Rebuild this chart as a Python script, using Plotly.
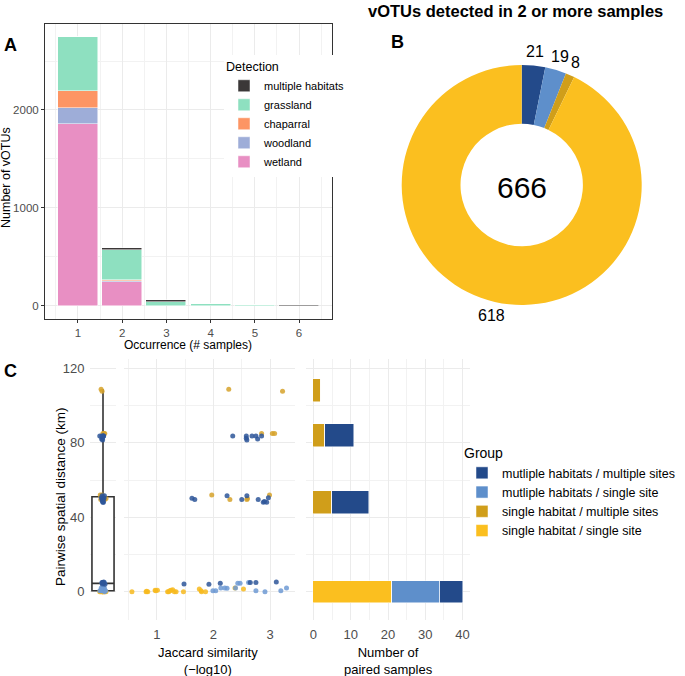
import math
import plotly.graph_objects as go

W, H = 685, 676
def fx(p):
    return p / W
def fy(p):
    return 1 - p / H

FONT = "Liberation Sans, Arial, Helvetica, sans-serif"
GRID = "#EBEBEB"
MINOR = "#F2F2F2"
TICKC = "#4D4D4D"

# ---------------- Panel A data ----------------
occurrence = [1, 2, 3, 4, 5, 6]
wetland = [1857, 238, 0, 0, 0, 0]
woodland = [163, 15, 0, 0, 0, 0]
chaparral = [177, 8, 0, 0, 0, 0]
grassland = [545, 308, 36, 18, 2, 1]
multiple_habitats = [0, 17, 18, 3, 1, 1]
detection_names = ["wetland", "woodland", "chaparral", "grassland", "multiple habitats"]
detection_colors = ["#E88FC3", "#9EADD8", "#FD9564", "#8EE0C0", "#3B3838"]

# ---------------- Panel B data ----------------
donut_labels = ["mutliple habitats / multiple sites", "mutliple habitats / single site",
                "single habitat / multiple sites", "single habitat / single site"]
donut_values = [21, 19, 8, 618]
donut_colors = ["#234A8A", "#5E8FCB", "#D09E1A", "#FBBF1F"]

# ---------------- Panel C data ----------------
group_names = ["single habitat / single site", "single habitat / multiple sites",
               "mutliple habitats / single site", "mutliple habitats / multiple sites"]
group_colors = ["#FBBF1F", "#D09E1A", "#5E8FCB", "#234A8A"]
point_colors = ["#F7BA1E", "#D6A22A", "#6F9AD3", "#2E5699"]

# Jaccard similarity (-log10) and pairwise distance (km) per group
ss_jac = [0.56, 0.81, 0.84, 0.97, 1.01, 1.19, 1.21, 1.23, 1.28, 1.31, 1.34, 1.47,
          1.75, 1.78, 1.79, 1.86, 2.38, 2.53, 0.98, 1.25, 0.82]
ss_dist = [0.0, 0.0, 0.0, 0.8, 0.8, 0.0, 0.0, 0.5, 1.0, 0.0, 0.0, 0.0,
           1.5, 0.5, 0.0, 0.0, 2.0, 1.5, 0.5, 0.8, 0.3]
sm_jac = [1.97, 2.29, 2.59, 2.99, 2.60, 2.85, 3.04, 3.08, 2.27, 3.22]
sm_dist = [52.0, 49.5, 49.5, 52.0, 50.0, 85.0, 85.0, 85.0, 108.7, 107.7]
ms_jac = [1.99, 2.04, 2.13, 2.20, 2.24, 2.39, 2.43, 2.47, 2.62, 2.75, 2.91, 3.19, 3.29]
ms_dist = [0.5, 0.5, 2.0, 2.0, 1.8, 2.0, 4.5, 4.5, 5.0, 0.5, 0.0, 0.5, 2.0]
mm_jac = [1.48, 1.92, 2.12, 2.65, 2.75, 3.11,
          1.62, 1.67, 2.24, 2.50, 2.59, 2.79, 2.88, 2.94, 2.97, 2.90,
          2.34, 2.58, 2.58, 2.59, 2.68, 2.75, 2.78, 2.85]
mm_dist = [4.1, 4.0, 4.5, 5.0, 5.0, 5.2,
           50.2, 49.5, 51.5, 49.5, 51.5, 49.5, 48.0, 48.0, 50.5, 48.5,
           83.7, 83.7, 82.4, 81.5, 83.7, 83.7, 82.0, 83.7]
group_jac = [ss_jac, sm_jac, ms_jac, mm_jac]
group_dist = [ss_dist, sm_dist, ms_dist, mm_dist]

# Number of paired samples per distance bin
dist_bins = [0, 48, 84, 108]
n_ss = [21, 0, 0, 0]
n_sm = [0, 5, 3, 2]
n_ms = [13, 0, 0, 0]
n_mm = [6, 10, 8, 0]
group_counts = [n_ss, n_sm, n_ms, n_mm]

fig = go.Figure()

# Panel A stacked bars
for name, col, vals in zip(detection_names, detection_colors,
                           [wetland, woodland, chaparral, grassland, multiple_habitats]):
    fig.add_trace(go.Bar(x=occurrence, y=vals, name=name, marker_color=col,
                         marker_line=dict(color="white", width=0.5), width=0.9,
                         xaxis="x", yaxis="y", legend="legend"))

# Panel B donut
PIE_CX, PIE_CY, PIE_R = 521.7, 185.0, 120.0
fig.add_trace(go.Pie(values=donut_values, labels=donut_labels,
                     marker=dict(colors=donut_colors, line=dict(width=0)),
                     hole=0.51, sort=False, direction="clockwise", rotation=0,
                     textinfo="none", showlegend=False,
                     domain=dict(x=[fx(PIE_CX - PIE_R), fx(PIE_CX + PIE_R)],
                                 y=[fy(PIE_CY + PIE_R), fy(PIE_CY - PIE_R)])))

# Panel C box plot (all distances)
all_dist = ss_dist + sm_dist + ms_dist + mm_dist
fig.add_trace(go.Box(x=[0] * len(all_dist), y=all_dist, boxpoints=False, width=0.85,
                     fillcolor="white", line=dict(color="#333333", width=1.6), whiskerwidth=0,
                     showlegend=False, xaxis="x2", yaxis="y2"))
for name, col, dists in zip(group_names, point_colors, group_dist):
    fig.add_trace(go.Box(x=[0] * len(dists), y=dists, boxpoints="all", jitter=0.35, pointpos=0,
                         width=0.85, fillcolor="rgba(0,0,0,0)",
                         line=dict(width=0, color="rgba(0,0,0,0)"),
                         marker=dict(color=col, size=5, opacity=0.85),
                         showlegend=False, xaxis="x2", yaxis="y2"))

# Panel C scatter
for name, col, jac, dists in zip(group_names, point_colors, group_jac, group_dist):
    fig.add_trace(go.Scatter(x=jac, y=dists, mode="markers",
                             marker=dict(color=col, size=5, opacity=0.85),
                             showlegend=False, xaxis="x3", yaxis="y3"))

# Panel C horizontal bars
for name, col, counts in zip(group_names, group_colors, group_counts):
    fig.add_trace(go.Bar(y=dist_bins, x=counts, orientation="h", name=name, width=12,
                         marker_color=col, marker_line=dict(color="white", width=0.5),
                         xaxis="x4", yaxis="y4", legend="legend2"))

tickfontA = dict(size=11.5, color=TICKC, family=FONT)
tickfontC = dict(size=13, color=TICKC, family=FONT)

layout = dict(
    width=W, height=H, autosize=False,
    margin=dict(l=0, r=0, t=0, b=0),
    paper_bgcolor="white", plot_bgcolor="white",
    font=dict(family=FONT, color="black"),
    barmode="stack", boxmode="overlay", bargap=0,
    xaxis=dict(domain=[fx(45), fx(332)], range=[0.255, 6.745], tickvals=occurrence,
               showline=True, mirror=True, linecolor="#333333", linewidth=1,
               showgrid=True, gridcolor=GRID, gridwidth=1,
               minor=dict(dtick=0.5, tick0=0.5, showgrid=True, gridcolor=MINOR, gridwidth=0.6),
               ticks="outside", ticklen=3, tickcolor="#333333", tickfont=tickfontA,
               zeroline=False, anchor="y"),
    yaxis=dict(domain=[fy(319), fy(24)], range=[-137, 2879], tickvals=[0, 1000, 2000],
               showline=True, mirror=True, linecolor="#333333", linewidth=1,
               showgrid=True, gridcolor=GRID, gridwidth=1,
               minor=dict(dtick=500, tick0=0, showgrid=True, gridcolor=MINOR, gridwidth=0.6),
               ticks="outside", ticklen=3, tickcolor="#333333", tickfont=tickfontA,
               zeroline=False, anchor="x"),
    xaxis2=dict(domain=[fx(90), fx(116)], range=[-0.5, 0.5], showgrid=False, showticklabels=False,
                zeroline=False, showline=False, anchor="y2"),
    yaxis2=dict(domain=[fy(620), fy(359)], range=[-15.2, 125], tickvals=[0, 40, 80, 120],
                showgrid=True, gridcolor=GRID, gridwidth=1,
                minor=dict(dtick=20, tick0=0, showgrid=True, gridcolor=MINOR, gridwidth=0.6),
                tickfont=tickfontC, zeroline=False, showline=False, anchor="x2",
                ticks="outside", ticklen=2, tickcolor="rgba(0,0,0,0)"),
    xaxis3=dict(domain=[fx(124), fx(295)], range=[0.42, 3.44], tickvals=[1, 2, 3],
                showgrid=True, gridcolor=GRID, gridwidth=1,
                minor=dict(dtick=0.5, tick0=0.5, showgrid=True, gridcolor=MINOR, gridwidth=0.6),
                tickfont=tickfontC, zeroline=False, showline=False, anchor="y3",
                ticks="outside", ticklen=2, tickcolor="rgba(0,0,0,0)"),
    yaxis3=dict(domain=[fy(620), fy(359)], range=[-15.2, 125], tickvals=[0, 40, 80, 120],
                showticklabels=False, showgrid=True, gridcolor=GRID, gridwidth=1,
                minor=dict(dtick=20, tick0=0, showgrid=True, gridcolor=MINOR, gridwidth=0.6),
                zeroline=False, showline=False, anchor="x3"),
    xaxis4=dict(domain=[fx(306), fx(470)], range=[-2, 42], tickvals=[0, 10, 20, 30, 40],
                showgrid=True, gridcolor=GRID, gridwidth=1,
                minor=dict(dtick=5, tick0=0, showgrid=True, gridcolor=MINOR, gridwidth=0.6),
                tickfont=tickfontC, zeroline=False, showline=False, anchor="y4",
                ticks="outside", ticklen=2, tickcolor="rgba(0,0,0,0)"),
    yaxis4=dict(domain=[fy(620), fy(359)], range=[-15.2, 125], tickvals=[0, 40, 80, 120],
                showticklabels=False, showgrid=True, gridcolor=GRID, gridwidth=1,
                minor=dict(dtick=20, tick0=0, showgrid=True, gridcolor=MINOR, gridwidth=0.6),
                zeroline=False, showline=False, anchor="x4"),
    legend=dict(x=fx(224), y=fy(55), xanchor="left", yanchor="top", traceorder="reversed",
                bgcolor="white", font=dict(size=11, family=FONT, color="black"),
                title=dict(text="Detection", font=dict(size=12.5, family=FONT)),
                tracegroupgap=0, itemclick=False),
    legend2=dict(x=fx(462), y=fy(440), xanchor="left", yanchor="top", traceorder="reversed",
                 bgcolor="rgba(0,0,0,0)", font=dict(size=12.5, family=FONT, color="black"),
                 title=dict(text="Group", font=dict(size=14, family=FONT)),
                 tracegroupgap=0, itemclick=False),
)
fig.update_layout(**layout)

annos = [
    dict(text="<b>A</b>", x=fx(10), y=fy(45), size=18),
    dict(text="<b>B</b>", x=fx(397), y=fy(42), size=18),
    dict(text="<b>C</b>", x=fx(10), y=fy(371), size=18),
    dict(text=str(sum(donut_values)), x=fx(PIE_CX), y=fy(PIE_CY + 2), size=30),
    dict(text="Number of vOTUs", x=fx(6), y=fy(178), size=12.5, angle=-90),
    dict(text="Occurrence (# samples)", x=fx(188), y=fy(345), size=12),
    dict(text="Pairwise spatial distance (km)", x=fx(60), y=fy(497), size=13.5, angle=-90),
    dict(text="Jaccard similarity<br>(\u2212log10)", x=fx(208), y=fy(661), size=13),
    dict(text="Number of<br>paired samples", x=fx(388), y=fy(661), size=13),
]
# donut value labels placed at each slice's mid angle, just outside the ring
cum = 0
total = sum(donut_values)
for v in donut_values:
    ang = math.radians((cum + v / 2) / total * 360)
    cum += v
    lr = PIE_R + 14
    annos.append(dict(text=str(v), x=fx(PIE_CX + lr * math.sin(ang)),
                      y=fy(PIE_CY - lr * math.cos(ang)), size=16))

for a in annos:
    fig.add_annotation(text=a["text"], x=a["x"], y=a["y"], xref="paper", yref="paper",
                       xanchor="center", yanchor="middle", showarrow=False,
                       textangle=a.get("angle", 0),
                       font=dict(size=a["size"], family=FONT, color="black"))
fig.add_annotation(text="<b>vOTUs detected in 2 or more samples</b>", x=fx(366), y=fy(11),
                   xref="paper", yref="paper", xanchor="left", yanchor="middle", showarrow=False,
                   font=dict(size=16.5, family=FONT, color="black"))

fig.write_html("out.html", config={"displayModeBar": False},
               post_script="document.body.style.margin='0px';")
